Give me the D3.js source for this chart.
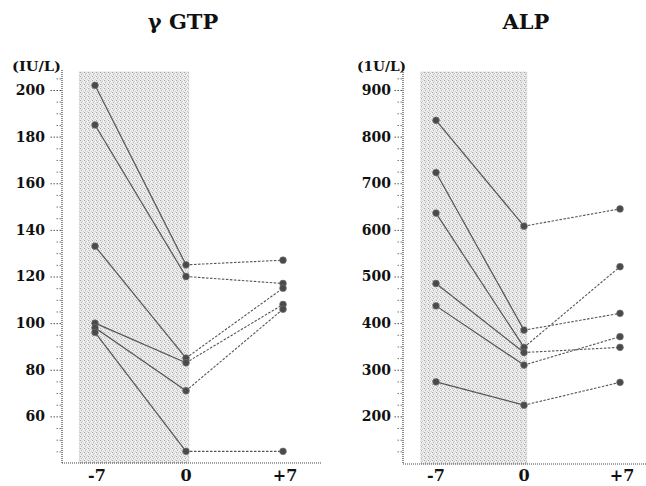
<!DOCTYPE html>
<html><head><meta charset="utf-8">
<script src="https://cdn.jsdelivr.net/npm/d3@7"></script>
<style>html,body{margin:0;padding:0;background:#fff;}</style>
</head><body>
<svg id="c" width="646" height="486"></svg>
<script>
// ---- data ----
const days = [-7, 0, 7];
const dayLabels = ["-7", "0", "+7"];
const shadeDays = [-8.2, 0.2];

const gtpTitle = "γ GTP";
const gtpUnit = "(IU/L)";
const gtpTicks = [60, 80, 100, 120, 140, 160, 180, 200];
const gtpMinor = [45, 50, 55, 65, 70, 75, 85, 90, 95, 105, 110, 115, 125, 130, 135, 145, 150, 155, 165, 170, 175, 185, 190, 195, 205];
const gtpSeries = [
  [202, 125, 127],
  [185, 120, 117],
  [133, 85, 115],
  [100, 83, 108],
  [98, 71, 106],
  [96, 45, 45]
];

const alpTitle = "ALP";
const alpUnit = "(1U/L)";
const alpTicks = [200, 300, 400, 500, 600, 700, 800, 900];
const alpMinor = [125, 150, 175, 225, 250, 275, 325, 350, 375, 425, 450, 475, 525, 550, 575, 625, 650, 675, 725, 750, 775, 825, 850, 875, 925];
const alpSeries = [
  [835, 608, 645],
  [723, 385, 421],
  [636, 348, 521],
  [485, 337, 348],
  [437, 310, 371],
  [274, 224, 273]
];

// ---- drawing ----
const svg = d3.select("#c");
const defs = svg.append("defs");
const pat = defs.append("pattern").attr("id", "stip").attr("patternUnits", "userSpaceOnUse")
  .attr("width", 4).attr("height", 4);
pat.append("rect").attr("width", 4).attr("height", 4).attr("fill", "#e8e8e8");
[[0,0,"#a8a8a8"],[2,1,"#c8c8c8"],[1,2,"#b4b4b4"],[3,3,"#d0d0d0"],[3,1,"#fafafa"],[0,3,"#f6f6f6"],[2,2,"#f8f8f8"]].forEach(p =>
  pat.append("rect").attr("x", p[0]).attr("y", p[1]).attr("width", 1).attr("height", 1).attr("fill", p[2]));

const serif = "'DejaVu Serif', serif";

function panel(cfg) {
  const g = svg.append("g");
  const x = d3.scaleLinear().domain(days).range(cfg.xr);
  const y = d3.scaleLinear().domain(cfg.yd).range([463, 90]);

  // shaded period
  g.append("rect")
    .attr("x", x(shadeDays[0])).attr("y", 72)
    .attr("width", x(shadeDays[1]) - x(shadeDays[0]))
    .attr("height", cfg.axisY - 72)
    .attr("fill", "url(#stip)")
    .attr("stroke", "#bbb").attr("stroke-width", 0.8).attr("stroke-dasharray", "1,1");

  // axes lines (dotted)
  g.append("line").attr("x1", cfg.axisX).attr("x2", cfg.axisX).attr("y1", 70).attr("y2", cfg.axisY)
    .attr("stroke", "#444").attr("stroke-width", 1.2).attr("stroke-dasharray", "1,1");
  g.append("line").attr("x1", cfg.axisX).attr("x2", cfg.xEnd).attr("y1", cfg.axisY).attr("y2", cfg.axisY)
    .attr("stroke", "#444").attr("stroke-width", 1.2).attr("stroke-dasharray", "1,1");

  // major ticks
  const ax = d3.axisLeft(y).tickValues(cfg.ticks).tickSize(cfg.majLen).tickPadding(cfg.pad).tickFormat(d3.format("d"));
  const ag = g.append("g").attr("transform", `translate(${cfg.axisX - 1},0)`).call(ax);
  ag.select(".domain").remove();
  ag.selectAll(".tick line").attr("stroke", "#555").attr("stroke-width", 1).attr("stroke-dasharray", "1.5,1.5");
  ag.selectAll(".tick text").attr("font-family", serif).attr("font-weight", "bold")
    .attr("font-size", 14).attr("fill", "#111");
  // minor ticks
  const mx = d3.axisLeft(y).tickValues(cfg.minor).tickSize(6).tickFormat("");
  const mg = g.append("g").attr("transform", `translate(${cfg.axisX - 1},0)`).call(mx);
  mg.select(".domain").remove();
  mg.selectAll(".tick line").attr("stroke", "#777").attr("stroke-width", 1).attr("stroke-dasharray", "1.5,1.5");

  // x labels
  g.selectAll(".xl").data(days).enter().append("text")
    .attr("x", (d, i) => x(d) + cfg.lblOff[i]).attr("y", 481)
    .attr("text-anchor", "middle").attr("font-family", serif).attr("font-weight", "bold")
    .attr("font-size", 16).attr("fill", "#111")
    .text((d, i) => dayLabels[i]);

  // title and unit
  g.append("text").attr("x", cfg.titleX).attr("y", 29).attr("text-anchor", "middle")
    .attr("font-family", serif).attr("font-weight", "bold").attr("font-size", 21).attr("fill", "#111")
    .text(cfg.title);
  g.append("text").attr("x", cfg.unitX).attr("y", 71)
    .attr("font-family", serif).attr("font-weight", "bold").attr("font-size", 12).attr("fill", "#111")
    .attr("textLength", 49).attr("lengthAdjust", "spacingAndGlyphs")
    .text(cfg.unit);

  // series
  cfg.series.forEach(s => {
    g.append("line").attr("x1", x(days[0])).attr("y1", y(s[0])).attr("x2", x(days[1])).attr("y2", y(s[1]))
      .attr("stroke", "#555").attr("stroke-width", 1.2);
    g.append("line").attr("x1", x(days[1])).attr("y1", y(s[1])).attr("x2", x(days[2])).attr("y2", y(s[2]))
      .attr("stroke", "#555").attr("stroke-width", 1.1).attr("stroke-dasharray", "2.5,1.5");
  });
  cfg.series.forEach(s => {
    g.selectAll(null).data(s).enter().append("circle")
      .attr("cx", (d, i) => x(days[i])).attr("cy", d => y(d)).attr("r", 3.4)
      .attr("fill", "#4a4a4a").attr("stroke", "#777").attr("stroke-width", 0.6);
  });
}

panel({
  xr: [95, 186, 283], yd: [40, 200], axisX: 62, axisY: 463, xEnd: 321,
  ticks: gtpTicks, minor: gtpMinor, majLen: 11, pad: 5,
  lblOff: [2, 0, 2], title: gtpTitle, titleX: 183, unit: gtpUnit, unitX: 12,
  series: gtpSeries
});
panel({
  xr: [436, 524, 620], yd: [100, 900], axisX: 403, axisY: 464, xEnd: 646,
  ticks: alpTicks, minor: alpMinor, majLen: 9, pad: 2,
  lblOff: [0, 0, 2], title: alpTitle, titleX: 526, unit: alpUnit, unitX: 357,
  series: alpSeries
});
</script>
</body></html>
